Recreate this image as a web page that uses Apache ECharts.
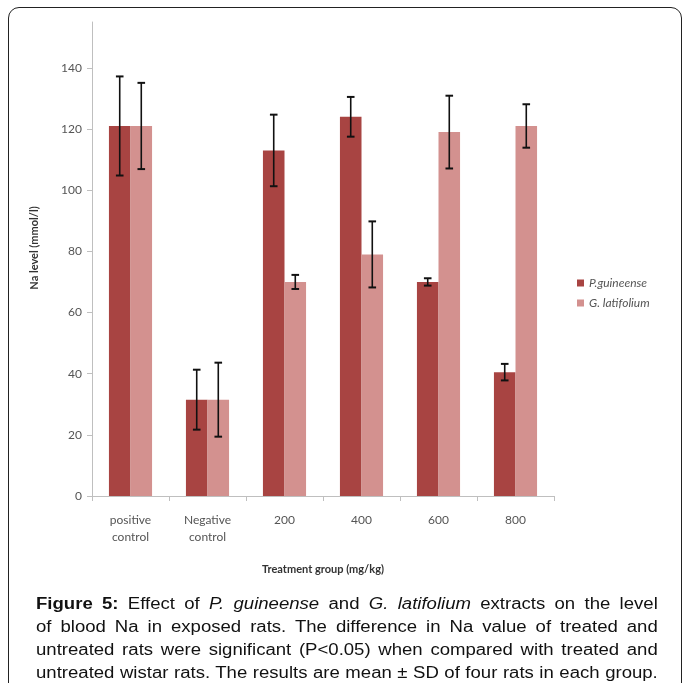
<!DOCTYPE html>
<html>
<head>
<meta charset="utf-8">
<script src="https://cdn.jsdelivr.net/npm/echarts@6/dist/echarts.min.js"></script>
<style>
html,body{margin:0;padding:0;background:#fff;width:683px;height:683px;overflow:hidden;}
#chart{position:absolute;left:0;top:0;width:683px;height:683px;}
#frame{position:absolute;left:8px;top:7px;width:672px;height:720px;border:1.5px solid #222;border-radius:11px;pointer-events:none;}
#caption{position:absolute;left:36px;top:592px;width:536px;font-family:"Liberation Sans",Arial,sans-serif;font-size:16px;line-height:23px;color:#111;transform:scaleX(1.16);transform-origin:0 0;}
#caption div{text-align:justify;text-align-last:justify;white-space:nowrap;}
</style>
</head>
<body>
<div id="chart"></div>
<div id="frame"></div>
<div id="caption">
<div><b>Figure 5:</b> Effect of <i>P. guineense</i> and <i>G. latifolium</i> extracts on the level</div>
<div>of blood Na in exposed rats. The difference in Na value of treated and</div>
<div>untreated rats were significant (P&lt;0.05) when compared with treated and</div>
<div>untreated wistar rats. The results are mean ± SD of four rats in each group.</div>
</div>
<script>
var categories = ['positive\ncontrol', 'Negative\ncontrol', '200', '400', '600', '800'];
var seriesNames = ['P.guineense', 'G. latifolium'];
var pMean = [121, 31.5, 113, 124, 70, 40.5];
var pSD = [16.2, 9.8, 11.7, 6.5, 1.2, 2.7];
var gMean = [121, 31.5, 70, 79, 119, 121];
var gSD = [14.1, 12.1, 2.3, 10.8, 11.9, 7.1];
var yTicks = [0, 20, 40, 60, 80, 100, 120, 140];

var darkColor = '#A84442';
var lightColor = '#D3918F';
var barCatGap = 0.44;

function errData(means, sds) {
  return means.map(function (m, i) { return [i, m, sds[i]]; });
}
function errRender(sign) {
  return function (params, api) {
    var i = api.value(0), m = api.value(1), sd = api.value(2);
    var band = api.size([1, 0])[0];
    var off = sign * band * (1 - barCatGap) / 4;
    var top = api.coord([i, m + sd]);
    var bot = api.coord([i, m - sd]);
    var x = top[0] + off;
    var cap = 3.8;
    var st = { stroke: '#111', lineWidth: 1.6 };
    return {
      type: 'group',
      children: [
        { type: 'line', shape: { x1: x, y1: top[1], x2: x, y2: bot[1] }, style: st },
        { type: 'line', shape: { x1: x - cap, y1: top[1], x2: x + cap, y2: top[1] }, style: { stroke: '#111', lineWidth: 2 } },
        { type: 'line', shape: { x1: x - cap, y1: bot[1], x2: x + cap, y2: bot[1] }, style: { stroke: '#111', lineWidth: 2 } }
      ]
    };
  };
}

var chart = echarts.init(document.getElementById('chart'), null, { renderer: 'canvas' });
var font = 'Lato, "Open Sans", sans-serif';
chart.setOption({
  animation: false,
  textStyle: { fontFamily: font },
  grid: { left: 92, right: 129, top: 22, bottom: 187, containLabel: false },
  legend: {
    orient: 'vertical', left: 572, top: 272,
    itemWidth: 7, itemHeight: 7, itemGap: 8,
    icon: 'rect',
    data: seriesNames,
    textStyle: { fontStyle: 'italic', fontSize: 12, color: '#555', fontFamily: font }
  },
  xAxis: {
    type: 'category',
    data: categories,
    name: 'Treatment group (mg/kg)',
    nameLocation: 'middle',
    nameGap: 68,
    nameTextStyle: { fontWeight: 'bold', fontSize: 11, color: '#333', fontFamily: font },
    axisLine: { lineStyle: { color: '#BFBFBF', width: 1 } },
    axisTick: { show: true, length: 5, lineStyle: { color: '#BFBFBF' } },
    axisLabel: { fontSize: 12, color: '#555', lineHeight: 17, margin: 16, fontFamily: font }
  },
  yAxis: {
    type: 'value',
    min: 0, max: 155, interval: 20,
    name: 'Na level (mmol/l)',
    nameLocation: 'middle',
    nameGap: 52,
    nameTextStyle: { fontWeight: 'bold', fontSize: 11, color: '#333', fontFamily: font, padding: [0, 0, 0, 22] },
    splitLine: { show: false },
    axisLine: { show: true, lineStyle: { color: '#BFBFBF', width: 1 } },
    axisTick: { show: true, length: 5, customValues: yTicks, lineStyle: { color: '#BFBFBF' } },
    axisLabel: { customValues: yTicks, fontSize: 12, color: '#555', margin: 10, fontFamily: font }
  },
  series: [
    { name: seriesNames[0], type: 'bar', data: pMean, itemStyle: { color: darkColor }, barGap: '0%', barCategoryGap: (barCatGap * 100) + '%' },
    { name: seriesNames[1], type: 'bar', data: gMean, itemStyle: { color: lightColor }, barGap: '0%', barCategoryGap: (barCatGap * 100) + '%' },
    { type: 'custom', renderItem: errRender(-1), data: errData(pMean, pSD), z: 5, silent: true },
    { type: 'custom', renderItem: errRender(1), data: errData(gMean, gSD), z: 5, silent: true }
  ]
});
</script>
</body>
</html>
